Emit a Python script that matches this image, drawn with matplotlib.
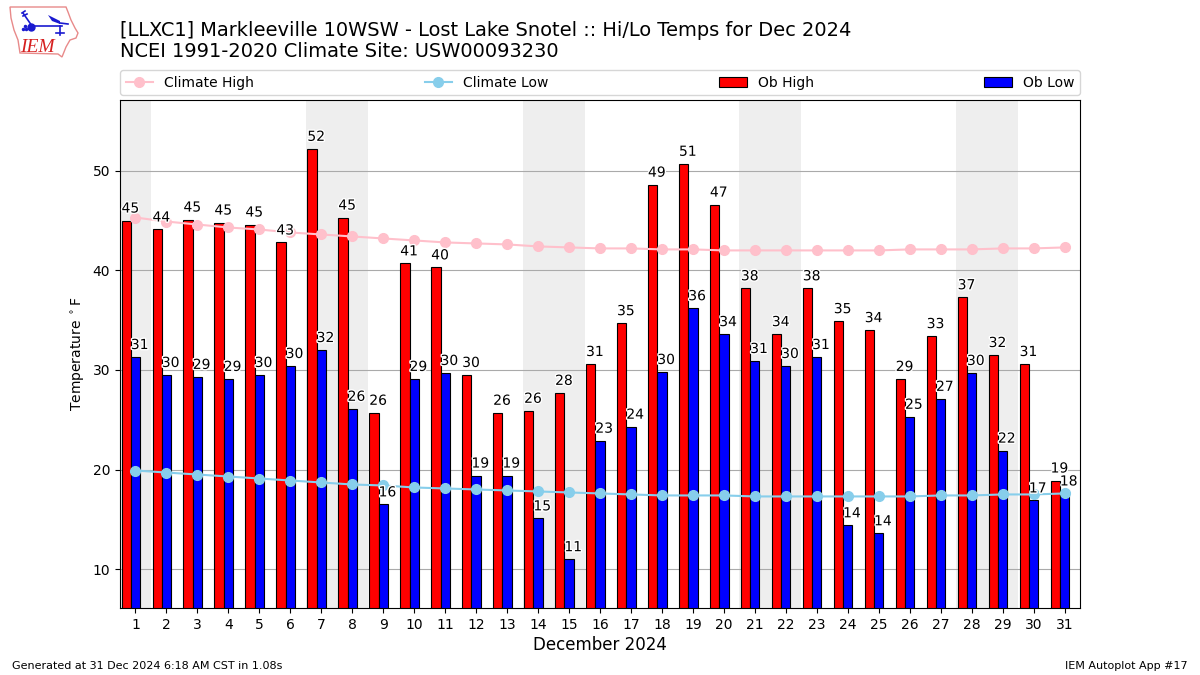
import matplotlib
matplotlib.use("Agg")
import matplotlib.pyplot as plt
import matplotlib.patheffects as pe
from matplotlib.patches import Polygon
from matplotlib.lines import Line2D

days = list(range(1, 32))
ob_high = [45.0, 44.1, 45.1, 44.8, 44.6, 42.8, 52.2, 45.3, 25.7, 40.7, 40.3, 29.5, 25.7, 25.9, 27.7, 30.6,
           34.7, 48.6, 50.7, 46.6, 38.2, 33.6, 38.2, 34.9, 34.0, 29.1, 33.4, 37.3, 31.5, 30.6, 18.9]
ob_low = [31.3, 29.5, 29.3, 29.1, 29.5, 30.4, 32.0, 26.1, 16.5, 29.1, 29.7, 19.4, 19.4, 15.1, 11.0, 22.9,
          24.3, 29.8, 36.2, 33.6, 30.9, 30.4, 31.3, 14.4, 13.6, 25.3, 27.1, 29.7, 21.9, 16.9, 17.6]
clim_high = [45.3, 44.9, 44.6, 44.3, 44.1, 43.8, 43.6, 43.4, 43.2, 43.0, 42.8, 42.7, 42.6, 42.4, 42.3, 42.2,
             42.2, 42.1, 42.1, 42.0, 42.0, 42.0, 42.0, 42.0, 42.0, 42.1, 42.1, 42.1, 42.2, 42.2, 42.3]
clim_low = [19.9, 19.7, 19.5, 19.3, 19.1, 18.9, 18.7, 18.5, 18.4, 18.2, 18.1, 18.0, 17.9, 17.8, 17.7, 17.6,
            17.5, 17.4, 17.4, 17.4, 17.3, 17.3, 17.3, 17.3, 17.3, 17.3, 17.4, 17.4, 17.5, 17.5, 17.6]
weekend_spans = [(0.5, 1.5), (6.5, 8.5), (13.5, 15.5), (20.5, 22.5), (27.5, 29.5)]
W, H = 1200, 675

fig = plt.figure(figsize=(12, 6.75), dpi=100)
ax = fig.add_axes([120 / W, 1 - 608 / H, 960 / W, 508 / H])

for a, b in weekend_spans:
    ax.axvspan(a, b, color="#eeeeee", lw=0, zorder=0)
ax.yaxis.grid(True, color="#aaaaaa", lw=0.8, zorder=1)
ax.set_axisbelow(True)

bar_w = 0.3
red_left = [d - 0.45 for d in days]
blue_left = [d - 0.15 for d in days]
ax.bar(red_left, ob_high, width=bar_w, align="edge", color="red", edgecolor="black", lw=0.8, zorder=2, label="Ob High")
ax.bar(blue_left, ob_low, width=bar_w, align="edge", color="blue", edgecolor="black", lw=0.8, zorder=2, label="Ob Low")
ax.plot(days, clim_high, color="pink", marker="o", ms=7, lw=1.5, zorder=3, label="Climate High")
ax.plot(days, clim_low, color="skyblue", marker="o", ms=7, lw=1.5, zorder=3, label="Climate Low")

stroke = [pe.withStroke(linewidth=2, foreground="white")]
for xr, xb, hi, lo in zip(red_left, blue_left, ob_high, ob_low):
    ax.text(xr, hi + 0.5, f"{hi:.0f}", ha="left", va="bottom", fontsize=10, zorder=4, path_effects=stroke)
    ax.text(xb, lo + 0.5, f"{lo:.0f}", ha="left", va="bottom", fontsize=10, zorder=4, path_effects=stroke)

ax.set_xlim(0.5, 31.5)
ax.set_ylim(6.1, 57.1)
ax.set_xticks(days)
ax.set_yticks([10, 20, 30, 40, 50])
ax.tick_params(labelsize=10)
ax.set_xlabel("December 2024", fontsize=12, labelpad=3)
ax.set_ylabel(r"Temperature $^\circ$F", fontsize=10)

handles, labels = ax.get_legend_handles_labels()
order = ["Climate High", "Climate Low", "Ob High", "Ob Low"]
pairs = dict(zip(labels, handles))
ax.legend([pairs[k] for k in order], order, ncol=4, mode="expand", loc="lower left",
          bbox_to_anchor=(0, 1.0095, 1, 0.05), borderaxespad=0, fontsize=10, frameon=True)

fig.text(120 / W, 1 - 61 / H, "[LLXC1] Markleeville 10WSW - Lost Lake Snotel :: Hi/Lo Temps for Dec 2024\n"
         "NCEI 1991-2020 Climate Site: USW00093230", fontsize=13.96, ha="left", va="bottom", linespacing=1.13)
fig.text(12 / W, 1 - 671 / H, "Generated at 31 Dec 2024 6:18 AM CST in 1.08s", fontsize=8, ha="left", va="bottom")
fig.text(1188 / W, 1 - 671 / H, "IEM Autoplot App #17", fontsize=8, ha="right", va="bottom")

# Logo, approximated in figure pixels
def px(x, y):
    return (x / W, 1 - y / H)
outline = [(10, 7), (66, 7), (68, 12), (71, 20), (75, 28), (78, 33), (76, 38), (70, 40), (66, 47),
           (64, 52), (62, 57), (58, 54), (20, 53), (18, 40), (14, 30), (11, 18)]
fig.add_artist(Polygon([px(*p) for p in outline], closed=True, fill=False, edgecolor="#e88a8a", lw=1,
                       transform=fig.transFigure))
blue = "#1a1ad0"
for seg in [[(32, 26), (62, 26)], [(60, 26), (60, 35)], [(32, 26), (23, 13)], [(60, 23), (68, 24)],
            [(56, 33), (64, 33)], [(22, 13), (25, 11)], [(23, 16), (27, 14)]]:
    fig.add_artist(Line2D([px(*p)[0] for p in seg], [px(*p)[1] for p in seg], color=blue, lw=1.2,
                          transform=fig.transFigure))
fig.add_artist(Polygon([px(48, 15), px(60, 21), px(60, 24), px(52, 21)], closed=True, facecolor=blue,
                       edgecolor="none", transform=fig.transFigure))
fig.add_artist(Line2D([px(31, 27)[0]], [px(31, 27)[1]], marker="o", ms=5, color=blue, transform=fig.transFigure))
fig.add_artist(Line2D([px(x, y)[0] for x, y in [(23, 29), (26, 29), (24.5, 26)]],
                      [px(x, y)[1] for x, y in [(23, 29), (26, 29), (24.5, 26)]],
                      ls="", marker="o", ms=1.5, color=blue, transform=fig.transFigure))
fig.text(20 / W, 1 - 52 / H, "IEM", fontsize=14, style="italic", family="Liberation Serif", color="#d62020",
         ha="left", va="baseline")

fig.savefig("out.png", dpi=100)
